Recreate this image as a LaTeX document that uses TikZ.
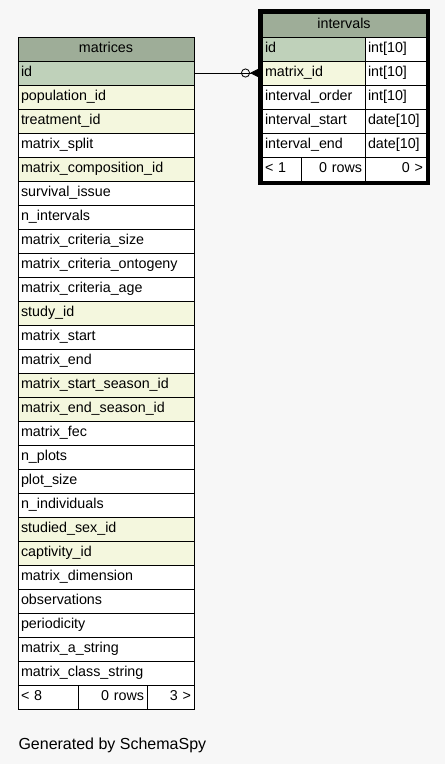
\documentclass[tikz,border=0pt]{standalone}
\usepackage{fontspec}
\setmainfont{Liberation Sans}
\usetikzlibrary{arrows.meta,fit}
\definecolor{headgray}{RGB}{158,173,152}
\definecolor{keygreen}{RGB}{191,209,186}
\definecolor{fkyellow}{RGB}{244,247,222}
\definecolor{bggray}{RGB}{247,247,247}
\tikzset{
  cell/.style={draw, line width=0.8pt, outer sep=0pt, inner sep=3pt, anchor=north west,
    minimum height=24pt, text height=10.5pt, text depth=3pt, fill=white,
    font=\fontsize{14.3}{16}\selectfont},
  cellw/.style={cell, text width=#1-6pt},
  lcell/.style={cellw=#1, align=left},
  ccell/.style={cellw=#1, align=center},
  rcell/.style={cellw=#1, align=right},
}
\begin{document}
\begin{tikzpicture}[x=1pt, y=-1pt]
  \fill[bggray] (0,0) rectangle (445,764);
  \useasboundingbox (0,0) rectangle (445,764);
  % matrices table
  \node[ccell=176, fill=headgray] (mhead) at (18,37) {matrices};
  \foreach \lbl/\col [count=\i] in {id/keygreen, population\_id/fkyellow, treatment\_id/fkyellow,
      matrix\_split/white, matrix\_composition\_id/fkyellow, survival\_issue/white,
      n\_intervals/white, matrix\_criteria\_size/white, matrix\_criteria\_ontogeny/white,
      matrix\_criteria\_age/white, study\_id/fkyellow, matrix\_start/white, matrix\_end/white,
      matrix\_start\_season\_id/fkyellow, matrix\_end\_season\_id/fkyellow, matrix\_fec/white,
      n\_plots/white, plot\_size/white, n\_individuals/white, studied\_sex\_id/fkyellow,
      captivity\_id/fkyellow, matrix\_dimension/white, observations/white, periodicity/white,
      matrix\_a\_string/white, matrix\_class\_string/white}
    \node[lcell=176, fill=\col] (m\i) at (18,37+24*\i) {\lbl};
  \node[lcell=60] (mfa) at (18,685) {< 8};
  \node[rcell=69] (mfb) at (78,685) {0 rows};
  \node[rcell=47] (mfc) at (147,685) {3 >};
  % intervals table
  \node[ccell=164, fill=headgray] (ihead) at (262,13) {intervals};
  \foreach \lbl/\typ/\col [count=\i] in {id/int[10]/keygreen, matrix\_id/int[10]/fkyellow,
      interval\_order/int[10]/white, interval\_start/date[10]/white, interval\_end/date[10]/white}{
    \node[lcell=103, fill=\col] (i\i) at (262,13+24*\i) {\lbl};
    \node[lcell=61] (t\i) at (365,13+24*\i) {\typ};}
  \node[lcell=39] (ifa) at (262,157) {< 1};
  \node[rcell=64] (ifb) at (301,157) {0 rows};
  \node[rcell=61] (ifc) at (365,157) {0 >};
  \node[draw, line width=4pt, inner sep=2pt, fit=(ihead)(ifc)] (iframe) {};
  % relationship
  \draw[line width=0.8pt, shorten >=4pt,
    -{Circle[open,length=9pt,width=9pt] Triangle[reversed,length=8pt,width=8pt]}] (m1.east) -- (i2.west);
  \node[anchor=west, font=\fontsize{16}{18}\selectfont] (gen) at (15,745) {Generated by SchemaSpy};
\end{tikzpicture}
\end{document}
